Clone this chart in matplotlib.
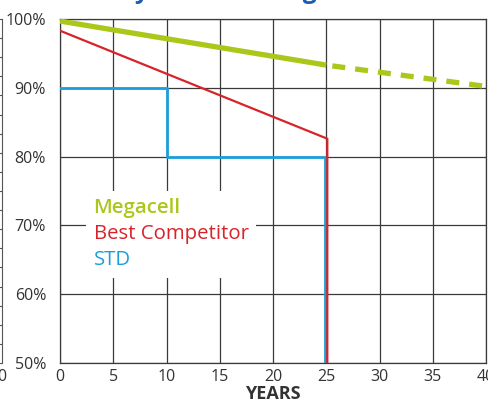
import matplotlib
matplotlib.use("Agg")
import matplotlib.pyplot as plt

# warranty curves (years, % of rated power)
mega_years = [0, 25]
mega_power = [99.7, 93.3]
mega_ext_years = [25, 40]
mega_ext_power = [93.3, 90.2]

comp_years = [0, 25.1, 25.1]
comp_power = [98.3, 82.6, 50]

std_years = [0, 10, 10, 24.85, 24.85]
std_power = [90, 90, 80, 80, 50]

x_ticks = [0, 5, 10, 15, 20, 25, 30, 35, 40]
y_ticks = [50, 60, 70, 80, 90, 100]
y_labels = ["50%", "60%", "70%", "80%", "90%", "100%"]

green = "#abc81a"
red = "#d8232a"
blue = "#1b9fdb"
grid_col = "#3a3a3a"
txt_col = "#333333"

plt.rcParams["font.family"] = ["Open Sans", "DejaVu Sans"]

fig = plt.figure(figsize=(4.88, 4.01), dpi=100)
W, H = 488, 401
left, right, top, bottom = 60, 486, 19, 363
ax = fig.add_axes([left / W, 1 - bottom / H, (right - left) / W, (bottom - top) / H])

ax.plot(std_years, std_power, color=blue, lw=2.0, zorder=3, label="STD")
ax.plot(comp_years, comp_power, color=red, lw=1.6, zorder=4, label="Best Competitor")
ax.plot(mega_years, mega_power, color=green, lw=3.8, zorder=5,
        solid_capstyle="butt", label="Megacell")
ax.plot(mega_ext_years, mega_ext_power, color=green, lw=3.8, zorder=5,
        linestyle=(3.2, (2.46, 1.9)), dash_capstyle="butt")

ax.set_xlim(0, 40)
ax.set_ylim(50, 100)
ax.set_xticks(x_ticks)
ax.set_yticks(y_ticks)
ax.set_yticklabels(y_labels)
ax.grid(True, color=grid_col, lw=0.9)
ax.set_axisbelow(True)
for s in ax.spines.values():
    s.set_color(grid_col)
    s.set_linewidth(0.9)
ax.tick_params(length=0, labelsize=11.5, labelcolor=txt_col, pad=4)
ax.tick_params(axis="y", pad=10)
ax.set_xlabel("YEARS", fontsize=13, fontweight="bold", color=txt_col, labelpad=0)

# legend as coloured text on a white box
handles, labels = ax.get_legend_handles_labels()
order = [2, 1, 0]
leg = ax.legend([handles[i] for i in order], [labels[i] for i in order],
                loc="upper left", bbox_to_anchor=(0.062, 0.5),
                handlelength=0, handletextpad=0, labelcolor="linecolor",
                frameon=True, fancybox=False, edgecolor="none",
                facecolor="white", framealpha=1, fontsize=14.7,
                labelspacing=0.3, borderpad=0.35, borderaxespad=0)
texts = leg.get_texts()
texts[0].set_fontweight("semibold")
for t in texts[1:]:
    t.set_fontweight("medium")
for h in leg.legend_handles:
    h.set_visible(False)

# edge of the neighbouring chart on the left
ax0 = fig.add_axes([-0.2, 1 - bottom / H, 0.2 + 2 / W, (bottom - top) / H])
ax0.set_xlim(0, 1)
ax0.set_ylim(0, 18)
for k in ["left", "top", "bottom"]:
    ax0.spines[k].set_visible(False)
ax0.spines["right"].set_color("#555555")
ax0.yaxis.tick_right()
ax0.set_yticks(range(19))
ax0.set_yticklabels([])
ax0.tick_params(axis="y", direction="in", length=3, color="#555555")
ax0.set_xticks([1])
ax0.set_xticklabels(["0"])
ax0.tick_params(axis="x", length=0, labelsize=11.5, labelcolor=txt_col, pad=4)
ax0.patch.set_visible(False)

# title, cut off by the top edge
fig.text(34 / W, 1 + 2.5 / H, "Warranty Power Ratings", fontsize=17.6,
         fontweight="bold", color="#1a5fae", ha="left", va="baseline")

fig.savefig("out.png", dpi=100)
